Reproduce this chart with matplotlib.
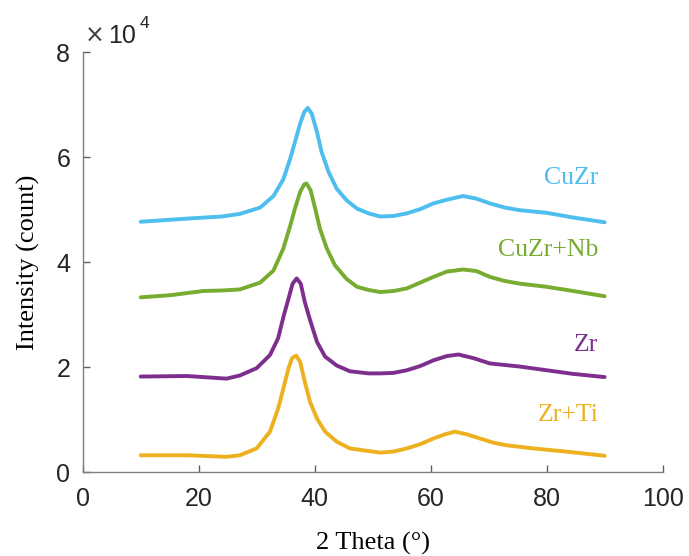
import numpy as np
import matplotlib.pyplot as plt

# XRD patterns, intensity in units of 1e4 counts
theta_cuzr = [10, 18, 24, 27.1, 30.6, 32.9, 34.6, 35.8, 36.6, 37.5, 38.2, 38.8, 39.5, 40.4, 41.2,
              42.4, 43.8, 45.5, 47.3, 49.3, 51.3, 53.6, 55.9, 58.2, 60.5, 62.8, 65.6, 67.9, 70.2,
              72.8, 75.4, 80.0, 84.6, 90]
int_cuzr = [4.77, 4.83, 4.87, 4.92, 5.04, 5.26, 5.58, 5.98, 6.29, 6.64, 6.86, 6.94, 6.83, 6.48, 6.10,
            5.72, 5.40, 5.18, 5.02, 4.93, 4.87, 4.88, 4.93, 5.01, 5.12, 5.19, 5.26, 5.21, 5.12,
            5.04, 4.99, 4.94, 4.85, 4.76]

theta_cuzr_nb = [10, 15.1, 20.8, 24, 27.1, 30.6, 32.9, 34.6, 35.8, 36.6, 37.5, 38.2, 38.6, 39.3,
                 40.1, 40.9, 42.1, 43.5, 45.5, 47.3, 49.3, 51.3, 53.6, 55.9, 58.2, 60.5, 62.8,
                 65.6, 67.9, 70.2, 72.8, 75.4, 80.0, 84.6, 90]
int_cuzr_nb = [3.33, 3.37, 3.45, 3.46, 3.48, 3.61, 3.84, 4.26, 4.70, 5.02, 5.34, 5.48, 5.50, 5.37,
               5.02, 4.64, 4.26, 3.94, 3.68, 3.53, 3.47, 3.43, 3.45, 3.50, 3.61, 3.72, 3.82,
               3.86, 3.83, 3.72, 3.64, 3.59, 3.53, 3.45, 3.35]

theta_zr = [10, 18, 24.8, 27.1, 30.0, 32.3, 33.7, 34.6, 35.5, 36.2, 36.9, 37.6, 38.3, 39.2, 40.4,
            41.8, 43.8, 46.1, 49.3, 51.3, 53.6, 55.9, 58.2, 60.5, 62.8, 64.8, 67.4, 70.2, 72.8,
            75.4, 80.0, 84.6, 90]
int_zr = [1.82, 1.83, 1.78, 1.84, 1.98, 2.23, 2.55, 2.95, 3.31, 3.59, 3.69, 3.59, 3.24, 2.90, 2.48,
          2.20, 2.03, 1.92, 1.88, 1.88, 1.89, 1.94, 2.02, 2.13, 2.21, 2.24, 2.17, 2.07, 2.04,
          2.01, 1.94, 1.87, 1.81]

theta_zr_ti = [10, 18, 24.8, 27.1, 30.0, 32.3, 33.7, 34.6, 35.5, 36.1, 36.8, 37.5, 38.3, 39.2,
               40.4, 41.8, 43.8, 46.1, 49.3, 51.3, 53.6, 55.9, 58.2, 60.5, 62.5, 64.2, 66.2,
               68.5, 70.8, 73.1, 77.7, 83.4, 90]
int_zr_ti = [0.32, 0.32, 0.29, 0.32, 0.45, 0.77, 1.21, 1.59, 1.98, 2.17, 2.22, 2.10, 1.72, 1.34,
             1.02, 0.77, 0.58, 0.45, 0.40, 0.37, 0.39, 0.45, 0.53, 0.64, 0.72, 0.77, 0.72,
             0.64, 0.56, 0.51, 0.45, 0.39, 0.31]

names = ['CuZr', 'CuZr+Nb', 'Zr', 'Zr+Ti']
colors = ['#4DBEEE', '#77AC30', '#7E2F8E', '#EDB120']
label_y = [5.61, 4.23, 2.42, 1.09]

fig = plt.figure(figsize=(6.89, 5.56), dpi=100)
ax = fig.add_axes([0.120, 0.151, 0.8417, 0.755])

series = [(theta_cuzr, int_cuzr), (theta_cuzr_nb, int_cuzr_nb),
          (theta_zr, int_zr), (theta_zr_ti, int_zr_ti)]
for (tx, iy), name, c, ly in zip(series, names, colors, label_y):
    ax.plot(tx, iy, color=c, linewidth=2.8, solid_capstyle='round', solid_joinstyle='round')
    ax.text(88.9, ly, name, color=c, ha='right', va='center',
            family='Liberation Serif', fontsize=18.5)

ax.set_xlim(0, 100)
ax.set_ylim(0, 8)
ax.set_xticks(np.arange(0, 101, 20))
ax.set_yticks(np.arange(0, 9, 2))
for sp in ['top', 'right']:
    ax.spines[sp].set_visible(False)
for sp in ['left', 'bottom']:
    ax.spines[sp].set_color('#7f7f7f')
    ax.spines[sp].set_linewidth(1.0)
ax.tick_params(direction='in', length=5, width=1.0, color='#606060',
               labelsize=18, labelcolor='#262626')
ax.tick_params(axis='x', pad=11)
ax.tick_params(axis='y', pad=9)
for lab in ax.get_xticklabels() + ax.get_yticklabels():
    lab.set_family('Liberation Sans')

ax.set_xlabel('2 Theta (°)', family='Liberation Serif', fontsize=19, va='center')
ax.set_ylabel('Intensity (count)', family='Liberation Serif', fontsize=19, va='center')
ax.xaxis.set_label_coords(0.5, -0.169)
ax.yaxis.set_label_coords(-0.094, 0.5)

# exponent marker above the y axis
fig.text(0.123, 0.923, '×', family='DejaVu Sans', fontsize=17, color='#404040', ha='left', va='baseline')
fig.text(0.157, 0.923, '10', family='Liberation Sans', fontsize=18, color='#262626', ha='left', va='baseline')
fig.text(0.203, 0.950, '4', family='Liberation Sans', fontsize=12.5, color='#262626', ha='left', va='baseline')

fig.savefig('out.png', dpi=100, facecolor='white')
